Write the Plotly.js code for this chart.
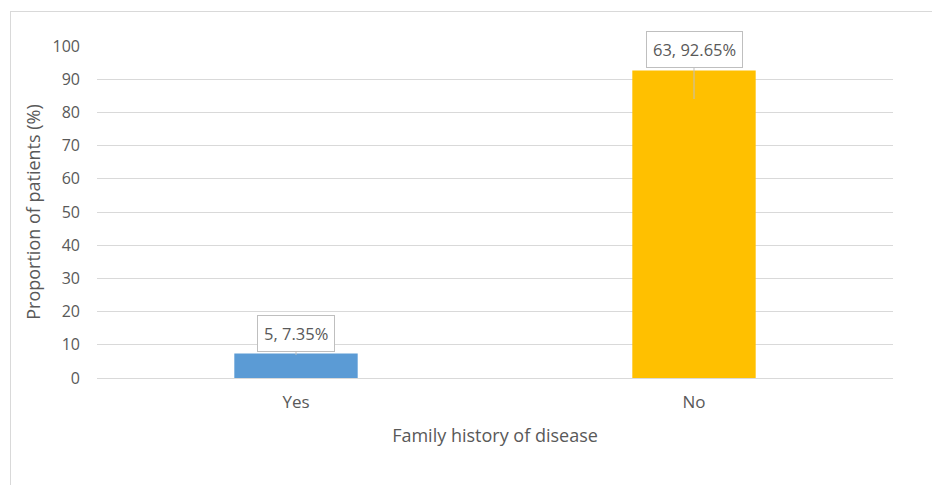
<!DOCTYPE html>
<html>
<head>
<meta charset="utf-8">
<script src="https://cdn.plot.ly/plotly-3.0.1.min.js"></script>
<style>
  html, body { margin: 0; padding: 0; background: #fff; }
  #chart { width: 932px; height: 485px; position: absolute; left: 0; top: 0; }
  #frame { position: absolute; left: 10px; top: 11px; width: 940px; height: 500px;
           border-left: 1px solid #d9d9d9; border-top: 1px solid #d9d9d9; pointer-events: none; }
</style>
</head>
<body>
<div id="chart"></div>
<div id="frame"></div>
<script>
const categories = ["Yes", "No"];
const percentages = [7.35, 92.65];
const counts = [5, 63];
const barColors = ["#5B9BD5", "#FFC000"];
const yTicks = [0, 10, 20, 30, 40, 50, 60, 70, 80, 90, 100];

const font = "'Open Sans', Lato, sans-serif";
const textColor = "#595959";

const trace = {
  type: "bar",
  x: categories,
  y: percentages,
  marker: { color: barColors, line: { width: 0 } },
  hoverinfo: "none"
};

// callout tip positions (fraction of bar height) and box offsets in pixels
const tipFrac = [0.94, 0.907];
const boxOffsets = [-22, -50];

const annotations = categories.map((c, i) => ({
  x: c,
  y: percentages[i] * tipFrac[i],
  xref: "x",
  yref: "y",
  text: counts[i] + ", " + percentages[i].toFixed(2) + "%",
  showarrow: true,
  arrowhead: 0,
  arrowwidth: 1,
  arrowcolor: "#bfbfbf",
  ax: 0,
  ay: boxOffsets[i],
  bgcolor: "#ffffff",
  bordercolor: "#bfbfbf",
  borderwidth: 1,
  borderpad: 6,
  font: { family: font, size: 16.5, color: textColor }
}));

const layout = {
  width: 932,
  height: 485,
  margin: { l: 97, r: 39, t: 46, b: 107 },
  paper_bgcolor: "#ffffff",
  plot_bgcolor: "#ffffff",
  bargap: 0.69,
  showlegend: false,
  font: { family: font, size: 16, color: textColor },
  xaxis: {
    type: "category",
    showgrid: false,
    showline: false,
    zeroline: false,
    ticks: "",
    ticklabelstandoff: 12,
    tickfont: { family: font, size: 17, color: textColor },
    title: { text: "Family history of disease", standoff: 17,
             font: { family: font, size: 18, color: textColor } }
  },
  yaxis: {
    range: [0, 100],
    tickvals: yTicks,
    ticktext: yTicks.map(String),
    showgrid: true,
    gridcolor: "#d9d9d9",
    gridwidth: 1,
    zeroline: true,
    zerolinecolor: "#d9d9d9",
    zerolinewidth: 1,
    showline: false,
    ticks: "",
    ticklabelstandoff: 16,
    tickfont: { family: font, size: 16, color: textColor },
    title: { text: "Proportion of patients (%)", standoff: 7,
             font: { family: font, size: 18, color: textColor } }
  },
  annotations: annotations
};

Plotly.newPlot("chart", [trace], layout, { staticPlot: true, displayModeBar: false });
</script>
</body>
</html>
